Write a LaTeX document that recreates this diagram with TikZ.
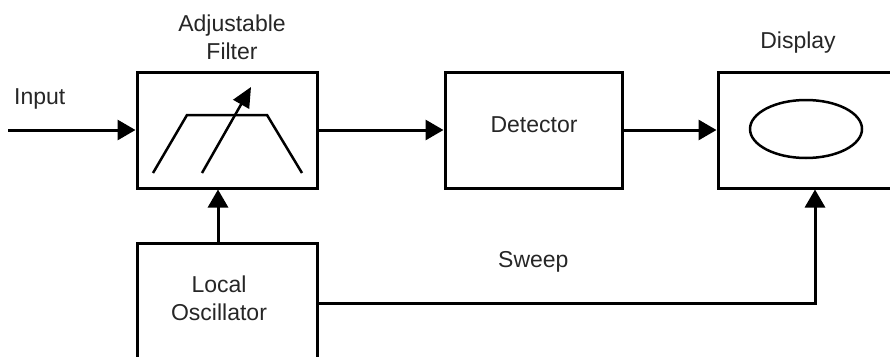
\documentclass[tikz,border=0pt]{standalone}
\usepackage{fontspec}
\setmainfont{Liberation Sans}
\usetikzlibrary{arrows.meta}
\begin{document}
\begin{tikzpicture}[x=1pt,y=-1pt,
  blk/.style={draw=black,line width=3pt,minimum width=180pt,minimum height=116pt,inner sep=0pt},
  lbl/.style={font=\fontsize{23}{28}\selectfont,text=black!85,inner sep=0pt,align=center},
  conn/.style={line width=3pt,-{Triangle[length=18pt,width=20pt]}}]
\useasboundingbox (0,0) rectangle (890,356);
\clip (0,0) rectangle (890,356);
\node[blk] (filt) at (227,130) {};
\node[blk,minimum width=177pt] (det) at (533.5,130) {};
\node[blk,minimum width=177pt] (disp) at (806.5,130) {};
\node[blk] (lo) at (227,301) {};
\coordinate (in) at (8,130);
\coordinate (corner) at (815,303);
% labels
\node[lbl,anchor=base west] (tin) at (14,104) {Input};
\node[lbl,anchor=base] (tadj) at (232,31) {Adjustable};
\node[lbl,anchor=base] (tfil) at (232,59) {Filter};
\node[lbl,anchor=base] (tdisp) at (798,48) {Display};
\node[lbl,anchor=base] (tdet) at (534,132) {Detector};
\node[lbl,anchor=base west] (tsw) at (498,267) {Sweep};
\node[lbl,anchor=base] (tloc) at (219,292) {Local};
\node[lbl,anchor=base] (tosc) at (219,320) {Oscillator};
% connectors
\draw[conn] (in) -- (filt.west);
\draw[conn] (filt.east) -- (det.west);
\draw[conn] (det.east) -- (det.east -| disp.west);
\draw[conn] (lo.north -| 218,0) -- (filt.south -| 218,0);
\draw[conn] (lo.east |- corner) -- (corner) -- (corner |- disp.south);
% filter symbol
\draw[line width=2.5pt,line join=miter] (153,173) -- (187,115) -- (267,115) -- (302,173);
\draw[line width=2.5pt,-{Triangle[length=20pt,width=18pt]}] (202,173) -- (251,87);
% display ellipse
\draw[line width=2.5pt] (806,129) ellipse [x radius=56,y radius=29];
\end{tikzpicture}
\end{document}
